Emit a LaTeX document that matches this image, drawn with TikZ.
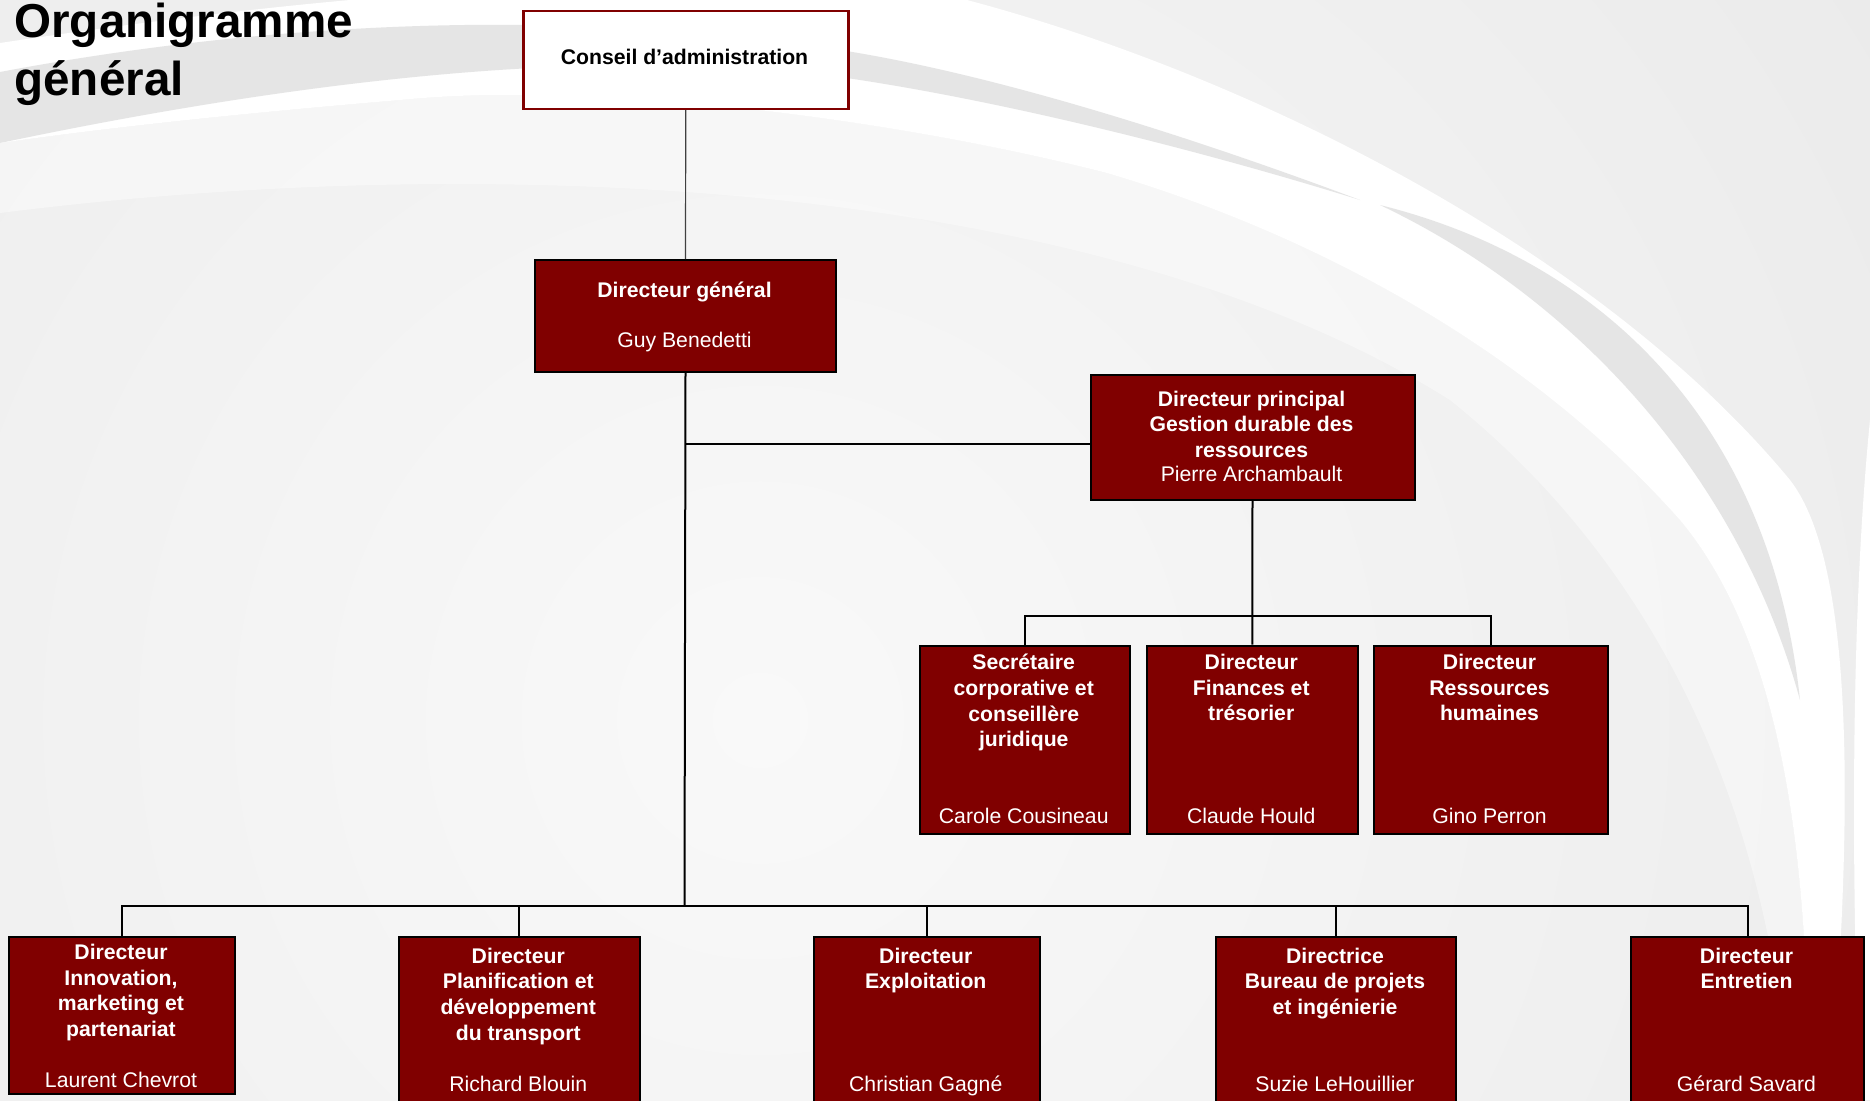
\documentclass[tikz,border=0pt]{standalone}
\usepackage{fontspec}
\setmainfont{Liberation Sans}

\definecolor{boxred}{RGB}{128,0,0}
\definecolor{bgin}{RGB}{249,249,249}
\definecolor{bgout}{RGB}{226,226,226}
\definecolor{stripegray}{RGB}{229,229,229}
\definecolor{cornergray}{RGB}{238,238,238}

\tikzset{
  orgbox/.style={draw=black, line width=1pt, fill=boxred, anchor=north west, inner sep=0pt},
  ttl/.style={text=white, font=\bfseries\fontsize{10.6}{12.8}\selectfont, align=center, inner sep=0pt, anchor=north},
  nom/.style={text=white, font=\fontsize{10.6}{12.8}\selectfont, inner sep=0pt, anchor=base},
  trait/.style={draw=black, line width=1pt},
}

\begin{document}
\begin{tikzpicture}[x=0.5pt,y=0.5pt,yscale=-1,xscale=1]
\useasboundingbox (0,0) rectangle (1870,1100);

%Shape: Background gradient
\begin{scope}
\clip (0,0) rectangle (1870,1100);
\shade[inner color=bgin, outer color=bgout] (760,720) circle (2200);
\end{scope}
%Shape: Polygon Curved (corner)
\fill[cornergray] (0,0) -- (350,0) .. controls (240,10) and (120,25) .. (0,43) -- cycle;
%Shape: Polygon Curved (white swoosh)
\fill[white] (350,0) -- (967,0) .. controls (1250,75) and (1600,250) .. (1790,480) .. controls (1860,570) and (1850,850) .. (1830,1100) -- (1808,1100) .. controls (1810,850) and (1780,640) .. (1680,520) .. controls (1520,340) and (1300,230) .. (1107,173) .. controls (900,120) and (600,80) .. (400,100) .. controls (220,115) and (90,130) .. (0,143) -- (0,43) .. controls (120,25) and (240,10) .. (350,0) -- cycle;
%Shape: Polygon Curved (grey stripe)
\fill[stripegray] (0,72) .. controls (250,25) and (550,5) .. (840,50) .. controls (1000,75) and (1200,140) .. (1360,200) .. controls (1200,150) and (1000,100) .. (840,77) .. controls (600,45) and (300,80) .. (0,143) -- cycle;
%Shape: Polygon Curved (grey stripe, right)
\fill[stripegray] (1380,205) .. controls (1600,260) and (1770,420) .. (1800,700) .. controls (1740,480) and (1580,300) .. (1380,205) -- cycle;
%Shape: Polygon Curved (light band)
\fill[white, fill opacity=0.4] (0,143) .. controls (90,130) and (220,115) .. (400,100) .. controls (600,80) and (900,120) .. (1107,173) .. controls (1300,230) and (1520,340) .. (1680,520) .. controls (1780,640) and (1810,850) .. (1808,1100) -- (1790,1100) .. controls (1770,800) and (1650,560) .. (1450,400) .. controls (1100,180) and (500,150) .. (0,213) -- cycle;
%Shape: Polygon Curved (right edge)
\fill[white] (1870,420) .. controls (1852,600) and (1850,850) .. (1860,1100) -- (1870,1100) -- cycle;

% Text Node
\node[anchor=north west, inner sep=0pt, align=left, font=\bfseries\fontsize{23.8}{28.8}\selectfont] (titre) at (14,2.5) {Organigramme\\général};

%Shape: Rectangle
\node[draw=boxred, line width=1.25pt, fill=white, anchor=north west, inner sep=0pt, minimum width=162.5pt, minimum height=49pt] (ca) at (522,9.5) {};
%Shape: Rectangle
\node[orgbox, minimum width=150.5pt, minimum height=56pt] (dg) at (534,259) {};
%Shape: Rectangle
\node[orgbox, minimum width=162pt, minimum height=62.75pt] (dp) at (1089.5,373.5) {};
%Shape: Rectangle
\node[orgbox, minimum width=105.25pt, minimum height=94pt] (sec) at (918.5,644.5) {};
\node[orgbox, minimum width=105.25pt, minimum height=94pt] (fin) at (1146,644.5) {};
\node[orgbox, minimum width=117pt, minimum height=94pt] (rh) at (1372.5,644.5) {};
%Shape: Rectangle
\node[orgbox, minimum width=113pt, minimum height=78.5pt] (inno) at (8,936) {};
\node[orgbox, minimum width=120.75pt, minimum height=87.5pt] (plan) at (397.5,936) {};
\node[orgbox, minimum width=113.25pt, minimum height=87.5pt] (expl) at (812.5,936) {};
\node[orgbox, minimum width=120pt, minimum height=87.5pt] (bur) at (1215,936) {};
\node[orgbox, minimum width=116.5pt, minimum height=87.5pt] (ent) at (1630,936) {};

\coordinate (dpin) at (1089.5,444);
\coordinate (busM) at (1251,616);
\coordinate (busB) at (684.5,906);

%Straight Lines
\draw[draw=black!75, line width=0.6pt] (ca.south) -- (dg.north);
\draw[trait] (dg.south) -- (busB);
\draw[trait] (dg.south |- dpin) -- (dpin);
%Straight Lines
\draw[trait] (dp.south) -- (fin.north);
\draw[trait] (sec.north) -- (sec.north |- busM) -- (rh.north |- busM) -- (rh.north);
%Straight Lines
\draw[trait] (inno.north) -- (inno.north |- busB) -- (ent.north |- busB) -- (ent.north);
\draw[trait] (plan.north) -- (plan.north |- busB);
\draw[trait] (expl.north) -- (expl.north |- busB);
\draw[trait] (bur.north) -- (bur.north |- busB);

% Text Node
\node[ttl, text=black, anchor=base] (caT) at (684.5,64) {Conseil d’administration};
% Text Node
\node[ttl, anchor=base] (dgT) at (684.5,297) {Directeur général};
\node[nom] (dgN) at (684.5,347.5) {Guy Benedetti};
% Text Node
\node[ttl] (dpT) at (1251.5,390.5) {Directeur principal\\Gestion durable des\\ressources};
\node[nom] (dpN) at (1251.5,481.7) {Pierre Archambault};
% Text Node
\node[ttl] (secT) at (1023.75,654) {Secrétaire\\corporative et\\conseillère\\juridique};
\node[nom] (secN) at (1023.75,823) {Carole Cousineau};
\node[ttl] (finT) at (1251.25,654) {Directeur\\Finances et\\trésorier};
\node[nom] (finN) at (1251.25,823) {Claude Hould};
\node[ttl] (rhT) at (1489.5,654) {Directeur\\Ressources\\humaines};
\node[nom] (rhN) at (1489.5,823) {Gino Perron};
% Text Node
\node[ttl] (innoT) at (121,944) {Directeur\\Innovation,\\marketing et\\partenariat};
\node[nom] (innoN) at (121,1087.6) {Laurent Chevrot};
\node[ttl] (planT) at (518.25,947.5) {Directeur\\Planification et\\développement\\du transport};
\node[nom] (planN) at (518.25,1091) {Richard Blouin};
\node[ttl] (explT) at (925.75,947.5) {Directeur\\Exploitation};
\node[nom] (explN) at (925.75,1091) {Christian Gagné};
\node[ttl] (burT) at (1335,947.5) {Directrice\\Bureau de projets\\et ingénierie};
\node[nom] (burN) at (1335,1091) {Suzie LeHouillier};
\node[ttl] (entT) at (1746.5,947.5) {Directeur\\Entretien};
\node[nom] (entN) at (1746.5,1091) {Gérard Savard};

\end{tikzpicture}
\end{document}
